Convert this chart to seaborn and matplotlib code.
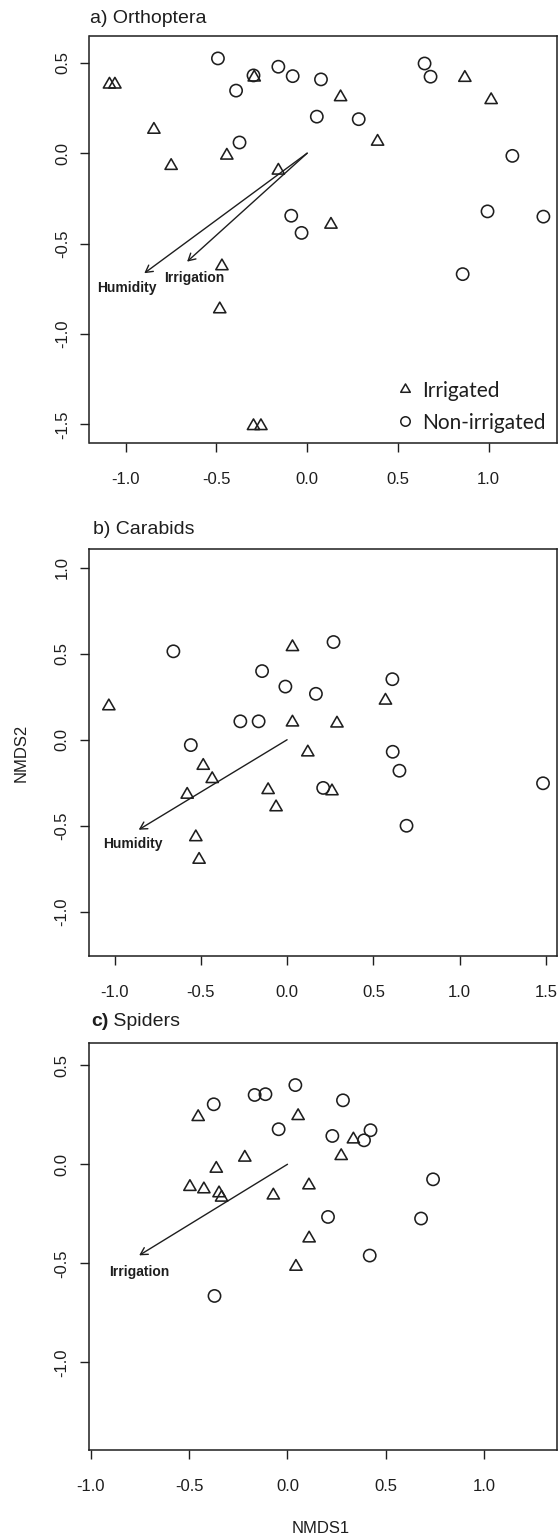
import numpy as np
import pandas as pd
import matplotlib
matplotlib.use("Agg")
import matplotlib.pyplot as plt
import seaborn as sns
from matplotlib.path import Path
from matplotlib.lines import Line2D
from matplotlib.ticker import FormatStrFormatter

# ---------------- data ----------------
groups = ["Irrigated", "Non-irrigated"]

# a) Orthoptera
orth_irr_x = [-1.09, -1.06, -0.845, -0.75, -0.443, -0.292, -0.159, 0.184, 0.388, 0.131,
              0.869, 1.014, -0.47, -0.482, -0.296, -0.255]
orth_irr_y = [0.38, 0.38, 0.13, -0.07, -0.013, 0.419, -0.096, 0.31, 0.064, -0.395,
              0.417, 0.294, -0.625, -0.863, -1.509, -1.509]
orth_non_x = [-0.492, -0.392, -0.296, -0.373, -0.159, -0.08, 0.076, 0.053, 0.284, -0.088,
              -0.031, 0.647, 0.68, 1.131, 0.994, 1.302, 0.857]
orth_non_y = [0.524, 0.346, 0.43, 0.059, 0.478, 0.426, 0.408, 0.202, 0.188, -0.346,
              -0.441, 0.496, 0.423, -0.015, -0.322, -0.351, -0.669]
orth_vec_names = ["Humidity", "Irrigation"]
orth_vec_x = [-0.898, -0.662]
orth_vec_y = [-0.664, -0.600]

# b) Carabids
carab_irr_x = [-1.033, 0.031, 0.031, 0.289, 0.57, 0.12, -0.486, -0.434, -0.579, -0.11,
               -0.064, 0.26, -0.529, -0.51]
carab_irr_y = [0.195, 0.539, 0.101, 0.095, 0.228, -0.073, -0.151, -0.228, -0.319, -0.292,
               -0.392, -0.299, -0.566, -0.697]
carab_non_x = [-0.659, 0.269, -0.145, -0.01, 0.167, 0.61, -0.271, -0.165, -0.558, 0.612,
               0.651, 0.209, 0.692, 1.483]
carab_non_y = [0.514, 0.568, 0.399, 0.309, 0.267, 0.352, 0.107, 0.107, -0.031, -0.07,
               -0.18, -0.28, -0.5, -0.253]
carab_vec_names = ["Humidity"]
carab_vec_x = [-0.86]
carab_vec_y = [-0.523]

# c) Spiders
spid_irr_x = [-0.454, 0.054, -0.217, -0.362, -0.496, -0.425, -0.348, -0.335, -0.072, 0.109,
              0.273, 0.335, 0.11, 0.043]
spid_irr_y = [0.239, 0.244, 0.034, -0.022, -0.114, -0.126, -0.146, -0.168, -0.157, -0.106,
              0.042, 0.126, -0.374, -0.517]
spid_non_x = [-0.375, -0.167, -0.112, 0.04, -0.045, 0.282, 0.228, 0.389, 0.422, 0.74,
              0.206, 0.679, 0.418, -0.371]
spid_non_y = [0.303, 0.35, 0.354, 0.40, 0.177, 0.323, 0.143, 0.121, 0.172, -0.076,
              -0.266, -0.274, -0.461, -0.665]
spid_vec_names = ["Irrigation"]
spid_vec_x = [-0.754]
spid_vec_y = [-0.46]

a_xticks = [-1.0, -0.5, 0.0, 0.5, 1.0]
a_yticks = [-1.5, -1.0, -0.5, 0.0, 0.5]
b_xticks = [-1.0, -0.5, 0.0, 0.5, 1.0, 1.5]
b_yticks = [-1.0, -0.5, 0.0, 0.5, 1.0]
c_xticks = [-1.0, -0.5, 0.0, 0.5, 1.0]
c_yticks = [-1.0, -0.5, 0.0, 0.5]

# ---------------- style ----------------
sns.set_style("white")
plt.rcParams["font.family"] = ["Liberation Sans", "DejaVu Sans"]
plt.rcParams["axes.unicode_minus"] = False

W, H = 558, 1537
fig = plt.figure(figsize=(W / 100, H / 100), dpi=100)
fig.patch.set_facecolor("white")

INK = "#1e1e1e"
tri_path = Path([(0, 1), (0.866, -0.5), (-0.866, -0.5), (0, 1)],
                [Path.MOVETO, Path.LINETO, Path.LINETO, Path.CLOSEPOLY])
markers = {"Irrigated": tri_path, "Non-irrigated": "o"}
sizes = {"Irrigated": 104, "Non-irrigated": 78}


def make_ax(left, top, right, bottom):
    return fig.add_axes([left / W, 1 - bottom / H, (right - left) / W, (bottom - top) / H])


def draw_panel(ax, ix, iy, nx, ny, vx, vy, vnames, lab_pos, xlim, ylim, xticks, yticks):
    df = pd.DataFrame({
        "NMDS1": list(ix) + list(nx),
        "NMDS2": list(iy) + list(ny),
        "Treatment": [groups[0]] * len(ix) + [groups[1]] * len(nx),
    })
    for g in groups:
        sub = df[df["Treatment"] == g]
        sns.scatterplot(data=sub, x="NMDS1", y="NMDS2", marker=markers[g], s=sizes[g],
                        color=INK, facecolor="none", edgecolor=INK, linewidth=1.15,
                        legend=False, ax=ax, zorder=3)
    for x1, y1, name, (lx, ly) in zip(vx, vy, vnames, lab_pos):
        ax.annotate("", xy=(x1, y1), xytext=(0, 0),
                    arrowprops=dict(arrowstyle="->,head_length=0.5,head_width=0.28",
                                    color=INK, lw=1.0, shrinkA=0, shrinkB=0))
        ax.text(lx, ly, name, ha="center", va="center", fontsize=10,
                fontweight="bold", color=INK)
    ax.set_xlim(*xlim)
    ax.set_ylim(*ylim)
    ax.set_xticks(xticks)
    ax.set_yticks(yticks)
    ax.xaxis.set_major_formatter(FormatStrFormatter("%.1f"))
    ax.yaxis.set_major_formatter(FormatStrFormatter("%.1f"))
    ax.tick_params(axis="both", direction="out", length=6.5, width=1.0, color=INK,
                   labelsize=12, labelcolor=INK, bottom=True, left=True)
    ax.tick_params(axis="x", pad=14.5)
    ax.tick_params(axis="y", pad=7.5, labelrotation=90)
    for lab in ax.get_yticklabels():
        lab.set_va("center")
    for sp in ax.spines.values():
        sp.set_visible(True)
        sp.set_color(INK)
        sp.set_linewidth(1.1)
    ax.set_xlabel("")
    ax.set_ylabel("")
    ax.set_facecolor("white")


ax_a = make_ax(89.5, 36, 557, 443)
ax_b = make_ax(89, 549.3, 557, 956)
ax_c = make_ax(89, 1042.5, 557, 1450)

draw_panel(ax_a, orth_irr_x, orth_irr_y, orth_non_x, orth_non_y,
           orth_vec_x, orth_vec_y, orth_vec_names, [(-0.992, -0.745), (-0.62, -0.688)],
           (-1.2, 1.377), (-1.603, 0.648), a_xticks, a_yticks)
draw_panel(ax_b, carab_irr_x, carab_irr_y, carab_non_x, carab_non_y,
           carab_vec_x, carab_vec_y, carab_vec_names, [(-0.891, -0.608)],
           (-1.148, 1.564), (-1.257, 1.107), b_xticks, b_yticks)
draw_panel(ax_c, spid_irr_x, spid_irr_y, spid_non_x, spid_non_y,
           spid_vec_x, spid_vec_y, spid_vec_names, [(-0.754, -0.545)],
           (-1.009, 1.37), (-1.443, 0.615), c_xticks, c_yticks)

# legend (panel a)
leg_handles = [
    Line2D([], [], marker=markers[g], linestyle="none", markerfacecolor="none",
           markeredgecolor=INK, markeredgewidth=1.1,
           markersize=(8.0 if g == "Irrigated" else 6.8))
    for g in groups
]
leg = ax_a.legend(leg_handles, groups, loc="center left", bbox_to_anchor=(0.6525, 0.0892),
                  frameon=False, borderpad=0, borderaxespad=0, handlelength=1.0,
                  handletextpad=0.3, labelspacing=0.58,
                  prop={"family": "Lato", "size": 15})
for t in leg.get_texts():
    t.set_color(INK)

# titles
ax_a.text(0.002, 1 + 18 / 407, "a) Orthoptera", transform=ax_a.transAxes,
          ha="left", va="center", fontsize=14, color=INK)
ax_b.text(0.008, 1 + 19.3 / 406.7, "b) Carabids", transform=ax_b.transAxes,
          ha="left", va="center", fontsize=14, color=INK)
tc = ax_c.text(0.004, 1 + 20.8 / 407.5, "c)", transform=ax_c.transAxes,
               ha="left", va="center", fontsize=14, color=INK, fontweight="bold")
ax_c.annotate(" Spiders", xy=(1, 0), xycoords=tc, ha="left", va="bottom",
              fontsize=14, color=INK)

# axis labels
ax_b.set_ylabel("NMDS2", fontsize=12, color=INK)
ax_b.yaxis.set_label_coords(-0.13, 0.5)
ax_c.set_xlabel("NMDS1", fontsize=12, color=INK)
ax_c.xaxis.set_label_coords(0.494, -0.175)

fig.savefig("out.png", dpi=100, facecolor="white")
